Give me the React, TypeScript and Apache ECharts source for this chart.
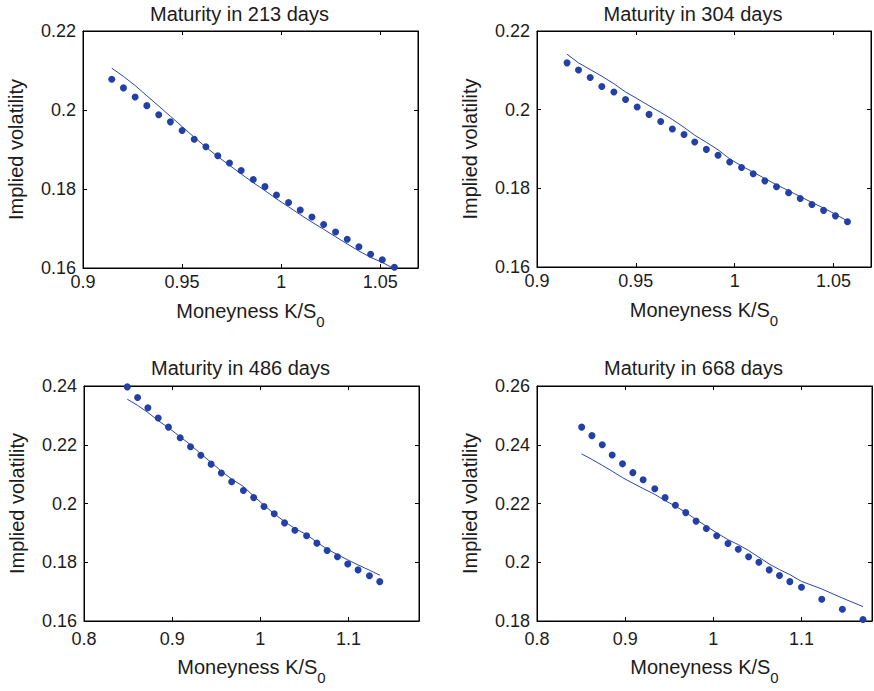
import React, { useEffect, useRef } from "react";
import * as echarts from "echarts";

// ---------- Data ----------
const titles = ["Maturity in 213 days", "Maturity in 304 days", "Maturity in 486 days", "Maturity in 668 days"];

const x213 = [0.9145, 0.9204, 0.9263, 0.9322, 0.9382, 0.9441, 0.95, 0.9561, 0.962, 0.968, 0.9739, 0.9798, 0.9859, 0.9918, 0.9976, 1.0037, 1.0096, 1.0155, 1.0214, 1.0274, 1.0333, 1.0392, 1.0451, 1.051, 1.0571];
const market213 = [0.2078, 0.2056, 0.2033, 0.2011, 0.1988, 0.197, 0.1948, 0.1926, 0.1907, 0.1884, 0.1866, 0.1847, 0.1824, 0.1806, 0.1785, 0.1766, 0.1747, 0.1729, 0.171, 0.1691, 0.1673, 0.1654, 0.1635, 0.1621, 0.1602];
const model213 = [0.2106, 0.2085, 0.2062, 0.2036, 0.201, 0.1984, 0.1958, 0.1931, 0.1906, 0.1882, 0.186, 0.1838, 0.1816, 0.1796, 0.1775, 0.1755, 0.1735, 0.1716, 0.1698, 0.1679, 0.1661, 0.1643, 0.1627, 0.1614, 0.1598];

const x304 = [0.9152, 0.921, 0.9269, 0.9328, 0.9389, 0.9448, 0.9507, 0.9567, 0.9626, 0.9685, 0.9744, 0.9798, 0.9857, 0.9916, 0.9975, 1.0035, 1.0094, 1.0153, 1.0212, 1.0273, 1.0332, 1.0391, 1.045, 1.051, 1.0571];
const market304 = [0.2119, 0.2101, 0.2082, 0.2059, 0.2045, 0.2026, 0.2007, 0.1988, 0.197, 0.1951, 0.1937, 0.1918, 0.1899, 0.1884, 0.1867, 0.1853, 0.1837, 0.1819, 0.1804, 0.1789, 0.1774, 0.1759, 0.1744, 0.173, 0.1715];
const model304 = [0.2141, 0.2119, 0.2102, 0.2085, 0.2066, 0.2045, 0.2028, 0.201, 0.1993, 0.1975, 0.1955, 0.1935, 0.1917, 0.1898, 0.1875, 0.1857, 0.1841, 0.1825, 0.1809, 0.1794, 0.1779, 0.1764, 0.175, 0.1734, 0.1717];

const x486 = [0.8491, 0.8608, 0.8725, 0.8842, 0.8958, 0.9091, 0.9208, 0.9325, 0.9442, 0.9558, 0.9675, 0.9808, 0.9925, 1.0042, 1.0158, 1.0275, 1.0392, 1.0525, 1.0642, 1.0758, 1.0875, 1.0992, 1.1109, 1.1238, 1.1355];
const market486 = [0.2397, 0.2361, 0.2326, 0.2291, 0.226, 0.2224, 0.2193, 0.2164, 0.2134, 0.2104, 0.2074, 0.2044, 0.202, 0.199, 0.1965, 0.1934, 0.1909, 0.189, 0.1865, 0.184, 0.1819, 0.1794, 0.1774, 0.1754, 0.1734];
const model486 = [0.2355, 0.2334, 0.231, 0.2282, 0.2258, 0.2227, 0.22, 0.2169, 0.214, 0.211, 0.2083, 0.2058, 0.2025, 0.1994, 0.1965, 0.1938, 0.1915, 0.1894, 0.1868, 0.1845, 0.1826, 0.1808, 0.1791, 0.1773, 0.1756];

const x668 = [0.8506, 0.8623, 0.874, 0.8853, 0.897, 0.9087, 0.9204, 0.9336, 0.9453, 0.957, 0.9687, 0.9804, 0.9921, 1.0038, 1.0166, 1.0283, 1.04, 1.0517, 1.0634, 1.0751, 1.0868, 1.1, 1.123, 1.1464, 1.1698];
const market668 = [0.246, 0.2431, 0.24, 0.2365, 0.2335, 0.2305, 0.2281, 0.225, 0.222, 0.2194, 0.2169, 0.214, 0.2115, 0.209, 0.2064, 0.2044, 0.2019, 0.2, 0.1974, 0.1955, 0.1934, 0.1915, 0.1874, 0.184, 0.1805];
const model668 = [0.2369, 0.235, 0.233, 0.231, 0.2288, 0.2269, 0.2251, 0.2231, 0.221, 0.2191, 0.217, 0.2145, 0.2123, 0.21, 0.2077, 0.206, 0.204, 0.2017, 0.1994, 0.1975, 0.1958, 0.1935, 0.1909, 0.1878, 0.1849];

const xRanges = [[0.9, 1.069, 0.05], [0.9, 1.069, 0.05], [0.8, 1.18, 0.1], [0.8, 1.18, 0.1]];
const yRanges = [[0.16, 0.22, 0.02], [0.16, 0.22, 0.02], [0.16, 0.24, 0.02], [0.18, 0.26, 0.02]];

const xLabel = "Moneyness K/S{s|0}";
const yLabel = "Implied volatility";

// ---------- Layout / style ----------
const FONT = '"Liberation Sans", Arial, Helvetica, sans-serif';
const TEXT = "#1c1c1c";
const DOT = "#2340a6";
const LINE = "#2c44b0";

const grids = [
  { left: 83, top: 31, width: 335, height: 237 },
  { left: 537, top: 31, width: 334, height: 236 },
  { left: 84, top: 386, width: 335, height: 235 },
  { left: 537, top: 386, width: 335, height: 235 },
];
const titleY = [14, 14, 368, 368];
const xLabelMargin = [5, 5, 9, 9];
const xNameGap = [25, 25, 28, 28];

const panels = [
  { x: x213, m: market213, f: model213 },
  { x: x304, m: market304, f: model304 },
  { x: x486, m: market486, f: model486 },
  { x: x668, m: market668, f: model668 },
];

function buildOption() {
  const grid: any[] = [];
  const xAxis: any[] = [];
  const yAxis: any[] = [];
  const series: any[] = [];
  const graphic: any[] = [];

  panels.forEach((p, i) => {
    const g = grids[i];
    grid.push({ ...g, show: true, borderColor: "#000", borderWidth: 1, backgroundColor: "transparent", containLabel: false });
    const [xmin, xmax, xint] = xRanges[i];
    const [ymin, ymax, yint] = yRanges[i];
    const tick = { show: true, inside: true, length: 4, lineStyle: { color: "#000", width: 1 } };
    const line = { show: true, lineStyle: { color: "#000", width: 1 } };
    xAxis.push({
      gridIndex: i, type: "value", min: xmin, max: xmax, interval: xint, position: "bottom",
      axisLine: line, axisTick: tick, splitLine: { show: false },
      axisLabel: { color: TEXT, fontSize: 18, fontFamily: FONT, margin: xLabelMargin[i], showMaxLabel: false },
      name: xLabel, nameLocation: "middle", nameGap: xNameGap[i],
      nameTextStyle: {
        color: TEXT, fontSize: 20, fontFamily: FONT,
        rich: { s: { fontSize: 15, fontFamily: FONT, color: TEXT, padding: [21, 0, 0, 0] } },
      },
    });
    xAxis.push({
      gridIndex: i, type: "value", min: xmin, max: xmax, interval: xint, position: "top",
      axisLine: line, axisTick: tick, splitLine: { show: false }, axisLabel: { show: false },
    });
    yAxis.push({
      gridIndex: i, type: "value", min: ymin, max: ymax, interval: yint, position: "left",
      axisLine: line, axisTick: tick, splitLine: { show: false },
      axisLabel: { color: TEXT, fontSize: 18, fontFamily: FONT, margin: 7 },
      name: yLabel, nameLocation: "middle", nameGap: 57,
      nameTextStyle: { color: TEXT, fontSize: 20, fontFamily: FONT },
    });
    yAxis.push({
      gridIndex: i, type: "value", min: ymin, max: ymax, interval: yint, position: "right",
      axisLine: line, axisTick: tick, splitLine: { show: false }, axisLabel: { show: false },
    });
    series.push({
      type: "line", xAxisIndex: 2 * i, yAxisIndex: 2 * i,
      data: p.x.map((v, k) => [v, p.f[k]]),
      showSymbol: false, symbol: "none", lineStyle: { color: LINE, width: 1 }, z: 3,
    });
    series.push({
      type: "scatter", xAxisIndex: 2 * i, yAxisIndex: 2 * i,
      data: p.x.map((v, k) => [v, p.m[k]]),
      symbolSize: 7, itemStyle: { color: DOT, opacity: 1 }, z: 4,
    });
    graphic.push({
      type: "text", x: g.left + g.width / 2 - 11, y: titleY[i],
      style: { text: titles[i], fill: TEXT, font: `20px ${FONT}`, textAlign: "center", textVerticalAlign: "middle" },
    });
  });

  return { animation: false, backgroundColor: "#fff", grid, xAxis, yAxis, series, graphic };
}

export default function App() {
  const ref = useRef<HTMLDivElement>(null);
  useEffect(() => {
    if (!ref.current) return;
    const chart = echarts.init(ref.current, undefined, { renderer: "svg" });
    chart.setOption(buildOption() as any);
    return () => chart.dispose();
  }, []);
  return <div ref={ref} style={{ position: "absolute", left: 0, top: 0, width: 874, height: 691, background: "#fff" }} />;
}
